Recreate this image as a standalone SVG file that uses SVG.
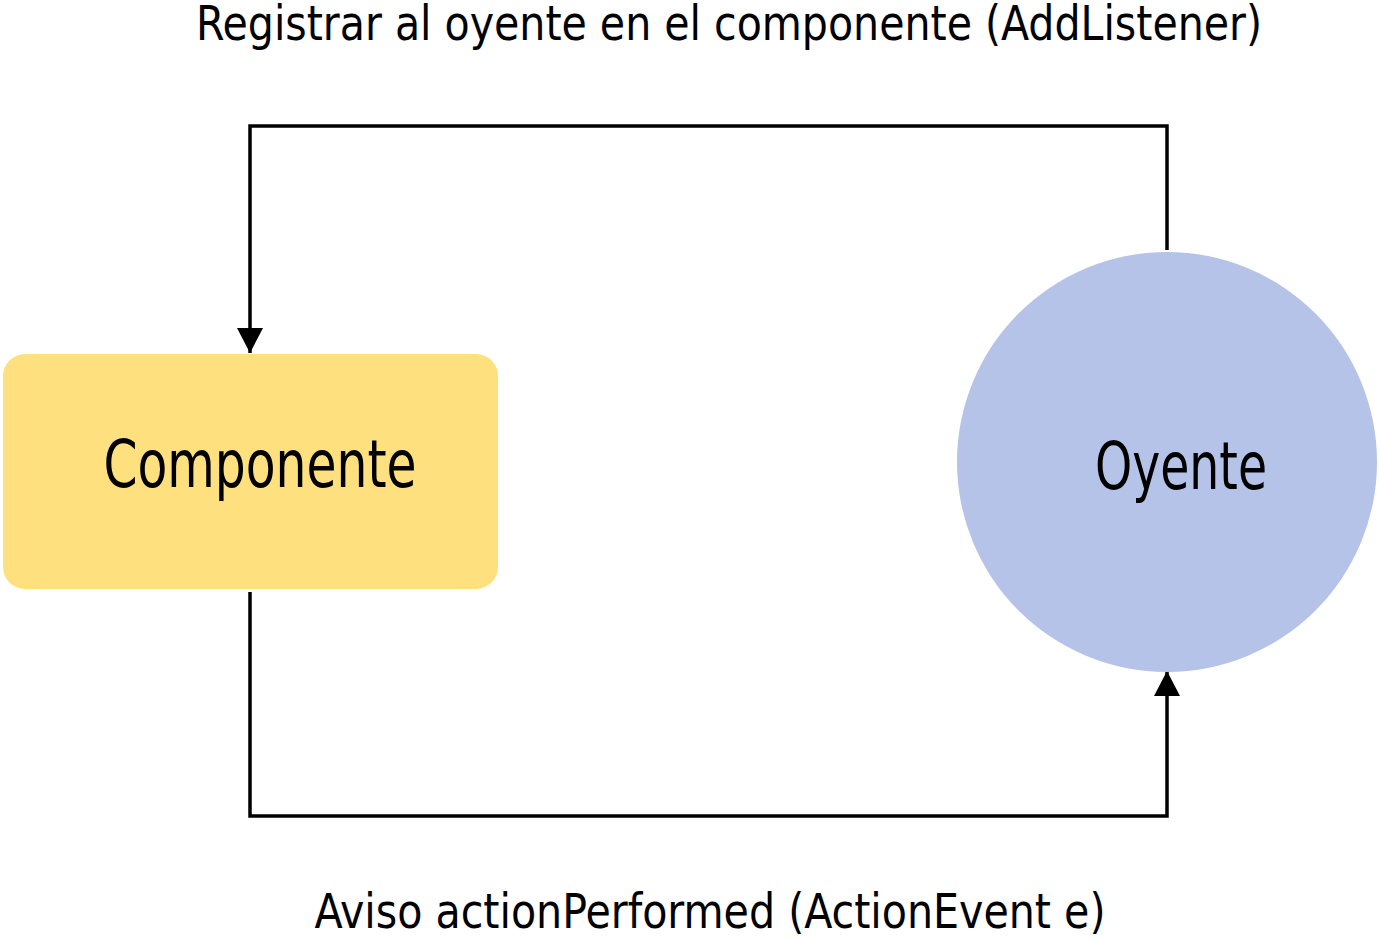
<svg xmlns="http://www.w3.org/2000/svg" width="1379" height="940" viewBox="0 0 1379 940">
<defs>
<style>
.t{font-family:"Liberation Sans Narrow","DejaVu Sans Condensed","Liberation Sans",sans-serif;fill:#000;}
.c{fill:none;stroke:#000;stroke-width:3.5;}
</style>
<marker id="ah" viewBox="0 0 25 26" refX="25" refY="13" markerWidth="25" markerHeight="26" markerUnits="userSpaceOnUse" orient="auto">
<path d="M0,0 L25,13 L0,26 Z" fill="#000"/>
</marker>
</defs>
<rect width="1379" height="940" fill="#fff"/>
<g id="connectors">
<path class="c" d="M1167,250 V126 H250 V353" marker-end="url(#ah)"/>
<path class="c" d="M250,592 V816 H1167 V671" marker-end="url(#ah)"/>
</g>
<g id="componente">
<rect x="3" y="354" width="495" height="235" rx="22" fill="#fee07e"/>
<text class="t" x="260" y="487" font-size="66" text-anchor="middle" textLength="313" lengthAdjust="spacingAndGlyphs">Componente</text>
</g>
<g id="oyente">
<circle cx="1167" cy="462" r="210" fill="#b4c3e7"/>
<text class="t" x="1181" y="489" font-size="66" text-anchor="middle" textLength="172" lengthAdjust="spacingAndGlyphs">Oyente</text>
</g>
<g id="labels">
<text class="t" x="729" y="40" font-size="48" text-anchor="middle" textLength="1066" lengthAdjust="spacingAndGlyphs">Registrar al oyente en el componente (AddListener)</text>
<text class="t" x="710" y="928" font-size="48" text-anchor="middle" textLength="791" lengthAdjust="spacingAndGlyphs">Aviso actionPerformed (ActionEvent e)</text>
</g>
</svg>
